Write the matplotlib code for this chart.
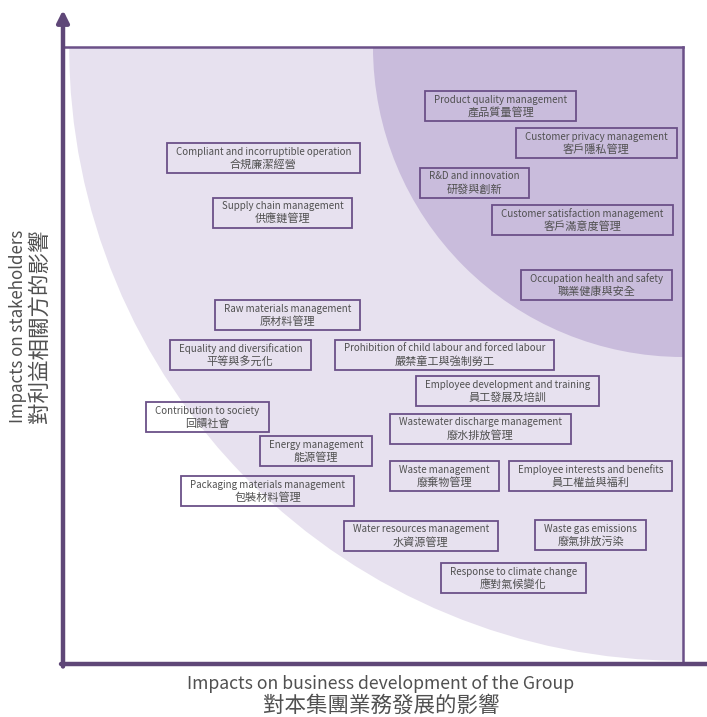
import matplotlib.pyplot as plt
from matplotlib.patches import Ellipse, Rectangle
from matplotlib.transforms import Bbox, IdentityTransform

plt.rcParams['font.family'] = ['Noto Sans CJK TC', 'DejaVu Sans']
plt.rcParams['font.weight'] = 'light'

# materiality issues: english / chinese name, impact on business (x), impact on stakeholders (y)
issues_en = ['Product quality management', 'Customer privacy management', 'R&D and innovation',
             'Customer satisfaction management', 'Occupation health and safety',
             'Compliant and incorruptible operation', 'Supply chain management',
             'Raw materials management', 'Equality and diversification',
             'Prohibition of child labour and forced labour', 'Employee development and training',
             'Wastewater discharge management', 'Contribution to society', 'Energy management',
             'Waste management', 'Employee interests and benefits',
             'Packaging materials management', 'Water resources management',
             'Waste gas emissions', 'Response to climate change']
issues_zh = ['產品質量管理', '客戶隱私管理', '研發與創新', '客戶滿意度管理', '職業健康與安全',
             '合規廉潔經營', '供應鏈管理', '原材料管理', '平等與多元化', '嚴禁童工與強制勞工',
             '員工發展及培訓', '廢水排放管理', '回饋社會', '能源管理', '廢棄物管理',
             '員工權益與福利', '包裝材料管理', '水資源管理', '廢氣排放污染', '應對氣候變化']
business = [7.06, 8.60, 6.64, 8.38, 8.60, 3.23, 3.54, 3.62, 2.86, 6.15,
            7.17, 6.73, 2.33, 4.08, 6.15, 8.51, 3.30, 5.77, 8.51, 7.26]
stakeholders = [9.04, 8.44, 7.80, 7.20, 6.14, 8.20, 7.31, 5.65, 5.01, 5.01,
                4.42, 3.81, 4.00, 3.45, 3.04, 3.04, 2.80, 2.08, 2.09, 1.39]

purple = '#5f4778'
edge = '#6b5088'
light = '#e7e1ef'
dark = '#c9bcdc'
txt = '#505050'

W, H = 707, 717
fig = plt.figure(figsize=(W / 100, H / 100), dpi=100)
ax = fig.add_axes([63 / W, (H - 664) / H, 620 / W, 617 / H])
ax.set_xlim(0, 10)
ax.set_ylim(0, 10)
ax.set_xticks([])
ax.set_yticks([])
for s in ['left', 'bottom']:
    ax.spines[s].set_visible(False)
for s in ['top', 'right']:
    ax.spines[s].set_color(edge)
    ax.spines[s].set_linewidth(1.8)

# zones: quarter circles around the top-right corner
pos = ax.get_position()
sx = pos.width * W / 10
sy = pos.height * H / 10
for r, c in [(9.9, light), (5, dark)]:
    ax.add_patch(Ellipse((10, 10), 2 * r, 2 * r * sx / sy, facecolor=c, edgecolor='none', zorder=0))

pairs = []
for en, zh, x, y in zip(issues_en, issues_zh, business, stakeholders):
    t1 = ax.annotate(en, (x, y), xytext=(0, 6.5), textcoords='offset pixels',
                     ha='center', va='center', fontsize=7.0, color=txt, zorder=3)
    t2 = ax.annotate(zh, (x, y), xytext=(0, -6.5), textcoords='offset pixels',
                     ha='center', va='center', fontsize=8.0, color=txt, zorder=3)
    pairs.append((t1, t2, x, y))

# boxes around each label pair: width from the text, fixed height
fig.canvas.draw()
rend = fig.canvas.get_renderer()
box_h = 30
for t1, t2, x, y in pairs:
    b = Bbox.union([t1.get_window_extent(rend), t2.get_window_extent(rend)])
    cx, cy = ax.transData.transform((x, y))
    fig.add_artist(Rectangle((b.x0 - 9, cy - box_h / 2), b.width + 18, box_h,
                             transform=IdentityTransform(), facecolor='none',
                             edgecolor=edge, lw=1.3, zorder=4))

# axis arrows
x0, y0 = 63 / W, (H - 664) / H
ax.annotate('', xy=(x0, (H - 10) / H), xytext=(x0, y0 - 2.5 / H), xycoords='figure fraction',
            arrowprops=dict(arrowstyle='-|>,head_length=0.7,head_width=0.35', lw=3.2,
                            color=purple, shrinkA=0, shrinkB=0), annotation_clip=False)
ax.annotate('', xy=(1.025, y0), xytext=(x0 - 2 / W, y0), xycoords='figure fraction',
            arrowprops=dict(arrowstyle='-|>,head_length=0.7,head_width=0.35', lw=3.2,
                            color=purple, shrinkA=0, shrinkB=0), annotation_clip=False)

fig.text(381 / W, (H - 684) / H, 'Impacts on business development of the Group',
         ha='center', va='center', fontsize=12.7, color=txt)
fig.text(381 / W, (H - 706) / H, '對本集團業務發展的影響',
         ha='center', va='center', fontsize=15.5, color=txt)
fig.text(18 / W, (H - 326) / H, 'Impacts on stakeholders',
         ha='center', va='center', fontsize=12.2, color=txt, rotation=90)
fig.text(40 / W, (H - 326) / H, '對利益相關方的影響',
         ha='center', va='center', fontsize=15.5, color=txt, rotation=90)

fig.savefig('out.png', dpi=100)
